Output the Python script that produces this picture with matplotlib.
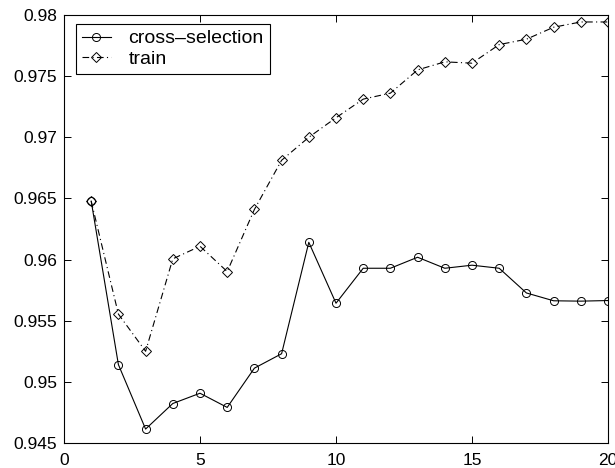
import matplotlib
matplotlib.use('Agg')
import matplotlib.pyplot as plt

plt.rcParams['font.family'] = ['Liberation Sans', 'DejaVu Sans']

# --- data ---
iterations = list(range(1, 21))
cross_selection = [0.96478, 0.95141, 0.94614, 0.94823, 0.94907, 0.94791, 0.95112,
                   0.95230, 0.96141, 0.95643, 0.95929, 0.95929, 0.96019, 0.95929,
                   0.95954, 0.95929, 0.95727, 0.95663, 0.95660, 0.95665]
train = [0.96478, 0.95554, 0.95250, 0.96006, 0.96109, 0.95902, 0.96410, 0.96812,
         0.97000, 0.97160, 0.97312, 0.97361, 0.97551, 0.97617, 0.97606, 0.97758,
         0.97802, 0.97900, 0.97943, 0.97943]
xticks = [0, 5, 10, 15, 20]
yticks = [0.945, 0.95, 0.955, 0.96, 0.965, 0.97, 0.975, 0.98]

fig = plt.figure(figsize=(6.15, 4.68), dpi=100)
ax = fig.add_axes([64 / 615, 25 / 468, (608 - 64) / 615, (443 - 15) / 468])

ax.plot(iterations, cross_selection, color='black', linestyle='-', linewidth=0.8,
        marker='o', markersize=5.8, markerfacecolor='none', markeredgewidth=0.7,
        label='cross\u2013selection')
ax.plot(iterations, train, color='black', linestyle=(0, (6, 3, 1, 3)), linewidth=0.8,
        marker='D', markersize=5.2, markerfacecolor='none', markeredgewidth=0.7,
        label='train')

ax.set_xlim(0, 20)
ax.set_ylim(0.945, 0.98)
ax.set_xticks(xticks)
ax.set_yticks(yticks)
ax.set_yticklabels([f'{v:g}' for v in yticks])

ax.tick_params(direction='in', length=5, width=0.7, top=True, right=True,
               labelsize=12.5, pad=5)
ax.tick_params(axis='x', pad=7)
for s in ax.spines.values():
    s.set_linewidth(0.8)

leg = ax.legend(loc='upper left', fontsize=14, frameon=True, fancybox=False,
                edgecolor='black', framealpha=1, borderpad=0.3, handlelength=1.5,
                handletextpad=0.9, labelspacing=0.15, borderaxespad=0,
                bbox_to_anchor=(12 / 544, 1 - 9 / 428))
leg.get_frame().set_linewidth(0.8)

fig.savefig('out.png', dpi=100)
